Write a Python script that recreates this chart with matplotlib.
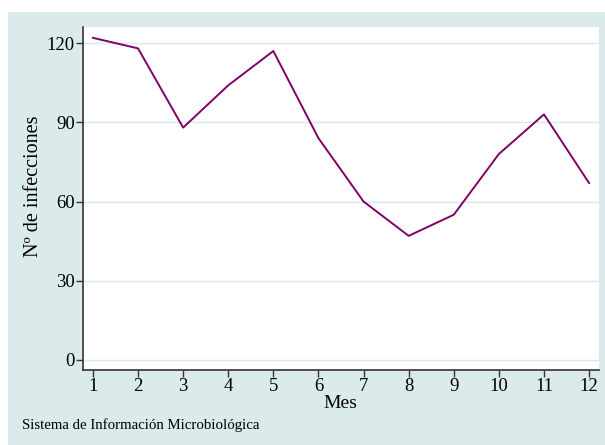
import matplotlib
matplotlib.use('Agg')
import matplotlib.pyplot as plt
from matplotlib.patches import Rectangle

# monthly infections
meses = [1, 2, 3, 4, 5, 6, 7, 8, 9, 10, 11, 12]
infecciones = [122, 118, 88, 104, 117, 84, 60, 47, 55, 78, 93, 67]
yticks = [0, 30, 60, 90, 120]

plt.rcParams['font.family'] = ['Liberation Serif', 'DejaVu Serif']

bg = '#dbeaea'
fig = plt.figure(figsize=(6.05, 4.45), dpi=100, facecolor='white')
fig.patches.append(Rectangle((8/605, 0), 1, (445-12)/445, transform=fig.transFigure,
                             facecolor=bg, edgecolor='none', zorder=-1))

ax = fig.add_axes([83/605, 1-370/445, 516/605, 343/445])
ax.set_facecolor('white')
ax.plot(meses, infecciones, color='#800066', lw=1.4, zorder=3)

ax.set_xlim(0.78, 12.22)
ax.set_ylim(-3.8, 126.1)
ax.set_xticks(meses)
ax.set_yticks(yticks)
ax.grid(axis='y', color='#d5e9e9', lw=1)
ax.set_axisbelow(True)
for s in ['top', 'right']:
    ax.spines[s].set_visible(False)
for s in ['left', 'bottom']:
    ax.spines[s].set_color('#333333')
    ax.spines[s].set_linewidth(1.2)
ax.tick_params(axis='both', direction='out', length=5, width=1, color='#333333',
               labelsize=13.5, pad=1)

fig.text(340/605, 1-404/445, 'Mes', ha='center', va='center', fontsize=14)
fig.text(33/605, 1-186/445, 'Nº de infecciones', ha='center', va='center',
         rotation=90, fontsize=14.5)
fig.text(22/605, 1-425/445, 'Sistema de Información Microbiológica', ha='left',
         va='center', fontsize=10.7)

fig.savefig('out.png', dpi=100, facecolor=fig.get_facecolor())
